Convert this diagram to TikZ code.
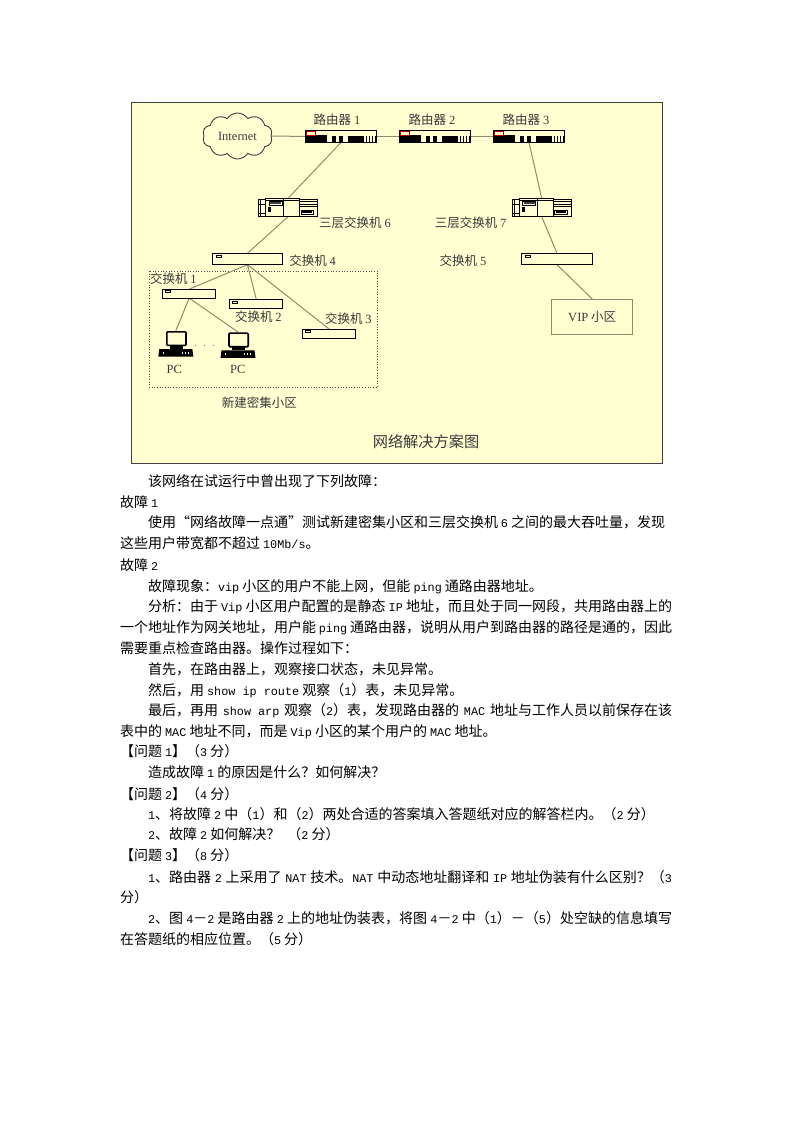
\documentclass[tikz,border=0pt]{standalone}
\usepackage{fontspec}
\setmainfont{Noto Sans CJK SC}
\newfontfamily\latf{Liberation Mono}
\newfontfamily\serf{Liberation Serif}
\newcommand\lat[1]{{\latf\fontsize{11.8}{12}\selectfont #1}}
\newcommand\sr[1]{{\serf #1}}
\newcommand\fullline[2]{\makebox[#1pt][s]{#2}}
\XeTeXlinebreaklocale "zh"
\XeTeXlinebreakskip=0pt plus 1.2pt minus 0.6pt
\usetikzlibrary{shapes.symbols,backgrounds}
\definecolor{bgy}{HTML}{FFFFD2}
\definecolor{linec}{HTML}{8C8C70}
\definecolor{labc}{HTML}{3A3A3A}
\tikzset{
  x=1pt,y=-1pt,
  txt/.style={anchor=base west,inner sep=0pt,outer sep=0pt,font=\fontsize{14}{14}\selectfont,text=black},
  lab/.style={inner sep=0pt,outer sep=0pt,font=\fontsize{12.5}{13}\selectfont,text=labc},
  conn/.style={draw=linec,line width=1pt},
  routerbox/.style={draw=black,line width=0.8pt,fill=bgy,minimum width=71pt,minimum height=11.6pt,inner sep=0pt,outer sep=0pt},
  l3box/.style={minimum width=58.6pt,minimum height=18.4pt,inner sep=0pt,outer sep=0pt},
  swbox/.style={draw=black,line width=1.2pt,fill=bgy,minimum width=70.4pt,minimum height=11.4pt,inner sep=0pt,outer sep=0pt},
  smallsw/.style={draw=black,line width=1pt,fill=bgy,minimum width=53pt,minimum height=9pt,inner sep=0pt,outer sep=0pt},
  pcbox/.style={minimum width=35pt,minimum height=26.5pt,inner sep=0pt,outer sep=0pt},
  pics/routericon/.style={code={
    \fill[black] (-35.5,-1.5) rectangle (-14,5.8);
    \foreach \a/\b in {-9.5/-5,-2.5/2,6.5/22.5,24.5/26,27.5/29,30.5/32,33.5/35}
      \fill[black] (\a,0) rectangle (\b,5.8);
    \draw[red!70!black,line width=0.5pt,fill=bgy] (-34.5,-5) rectangle (-26,-1.5);
  }},
  pics/lthreeicon/.style={code={
    \draw[black,line width=0.8pt] (-29.3,-8) rectangle (29.3,8.6);
    \draw[black,line width=0.8pt,fill=bgy] (-22.6,-9.2) rectangle (11.4,9.2);
    \draw[black,line width=0.8pt] (-4.4,-9.2) -- (-4.4,9.2);
    \draw[black,line width=0.6pt] (-22.6,-7) -- (11.4,-7);
    \fill[black!75] (-18,-6) rectangle (-7,-3.5);
    \draw[black,line width=0.5pt] (-19,-6.5) rectangle (-6,-2.5);
    \fill[black] (-20,0) rectangle (-17,5);
    \draw[black,line width=0.6pt] (-27.5,-8) -- (-27.5,8.6);
    \draw[black,line width=0.6pt] (-29.3,-3) -- (-22.6,-3) (-29.3,6) -- (-22.6,6);
    \draw[black,line width=0.8pt] (11.4,-6) -- (29.3,-6) (11.4,-3) -- (29.3,-3) (11.4,-1.2) -- (29.3,-1.2);
    \fill[black] (14,4) rectangle (24,5.6);
    \draw[black,line width=0.5pt] (13,2.6) rectangle (25.5,7);
  }},
  pics/pcicon/.style={code={
    \draw[black,line width=1.6pt,fill=bgy,rounded corners=1pt] (-9,-12.2) rectangle (10.2,1.4);
    \fill[black] (-6,1.4) rectangle (7,5);
    \fill[black] (-16.5,5) -- (16.5,5) -- (17.5,12.5) -- (-17.5,12.5) -- cycle;
    \foreach \a in {-13,6,9,12}
      \fill[bgy] (\a,7.5) rectangle ++(1.2,2);
  }},
  pics/swmark/.style={code={
    \draw[black,line width=0.7pt,fill=bgy] (0,0) rectangle (5,2.2);
  }},
}
\begin{document}
\begin{tikzpicture}
\useasboundingbox (0,0) rectangle (794,1123);
\begin{scope}[on background layer]
  \fill[white] (0,0) rectangle (794,1123);
  \draw[draw=black!75,line width=1pt,fill=bgy] (131.5,103) rectangle (662.5,463);
  \draw[black!70,line width=0.7pt,dotted] (149,271) rectangle (377.7,387.3);
\end{scope}
% equipment
\node[routerbox] (r1) at (341.2,136.5) {};
\node[routerbox] (r2) at (435.2,136.5) {};
\node[routerbox] (r3) at (529,136.5) {};
\pic at (r1.center) {routericon};
\pic at (r2.center) {routericon};
\pic at (r3.center) {routericon};
\node[cloud,cloud puffs=10,cloud puff arc=115,aspect=1.5,draw=black!75,line width=0.9pt,fill=bgy,minimum width=70pt,minimum height=46pt,inner sep=0pt,outer sep=0pt,font=\fontsize{12.5}{13}\selectfont\serf,text=labc] (cloud) at (237.5,136) {Internet};
\node[l3box] (l6) at (288,207.5) {};
\node[l3box] (l7) at (541.7,207.5) {};
\pic at (l6.center) {lthreeicon};
\pic at (l7.center) {lthreeicon};
\node[swbox] (s4) at (247.5,259) {};
\node[swbox] (s5) at (557,259) {};
\node[smallsw] (s1) at (189.2,293.6) {};
\node[smallsw] (s2) at (256.4,304.2) {};
\node[smallsw] (s3) at (329.2,333.6) {};
\pic at (216,255.5) {swmark};
\pic at (525,255.5) {swmark};
\pic at (165,290.5) {swmark};
\pic at (232.5,301) {swmark};
\pic at (305,330.5) {swmark};
\node[pcbox] (pc1) at (175.8,344) {};
\node[pcbox] (pc2) at (238,345.3) {};
\pic at (pc1.center) {pcicon};
\pic at (pc2.center) {pcicon};
\node[draw=linec,line width=1pt,fill=bgy,minimum width=81pt,minimum height=35pt,inner sep=0pt,outer sep=0pt,font=\fontsize{12.5}{13}\selectfont,text=labc] (vip) at (592.2,316.5) {\sr{VIP} 小区};
% connectors
\begin{scope}[on background layer]
  \draw[conn] (cloud) -- (r1);
  \draw[conn] (r1) -- (r2);
  \draw[conn] (r2) -- (r3);
  \draw[conn] (r1.south) -- (l6.north);
  \draw[conn] (l6.south) -- (s4.north);
  \draw[conn] (r3.south) -- (l7.north);
  \draw[conn] (l7.south) -- (s5.north);
  \draw[conn] (s5.south) -- (vip.north);
  \draw[conn] (s4.south) -- (s1.north);
  \draw[conn] (s4.south) -- (s2.north);
  \draw[conn] (s4.south) -- (s3.north);
  \draw[conn] (s1.south) -- (pc1.north);
  \draw[conn] (s1.south) -- (pc2.north);
\end{scope}
\foreach \a in {195.7,204.5,213.3} \fill[black!55] (\a,345.5) circle (0.6);
% diagram labels
\node[lab] (lr1) at (337,120) {路由器 \sr{1}};
\node[lab] (lr2) at (432,120) {路由器 \sr{2}};
\node[lab] (lr3) at (526,120) {路由器 \sr{3}};
\node[lab] (ll6) at (355,222.7) {三层交换机 \sr{6}};
\node[lab] (ll7) at (470.7,222.7) {三层交换机 \sr{7}};
\node[lab] (ls4) at (312.7,261) {交换机 \sr{4}};
\node[lab] (ls5) at (463,261) {交换机 \sr{5}};
\node[lab] (ls1) at (173.3,278.3) {交换机 \sr{1}};
\node[lab] (ls2) at (258.3,316.7) {交换机 \sr{2}};
\node[lab] (ls3) at (348.3,319) {交换机 \sr{3}};
\node[lab] (lp1) at (174.3,369) {\sr{PC}};
\node[lab] (lp2) at (237.7,369) {\sr{PC}};
\node[lab] (lnew) at (259.3,402.7) {新建密集小区};
\node[lab,font=\fontsize{15.2}{16}\selectfont] (ltitle) at (426,441.5) {网络解决方案图};
% body text
\node[txt] (t1) at (148,486.7) {该网络在试运行中曾出现了下列故障：};
\node[txt] (t2) at (120,507) {故障 \lat{1}};
\node[txt] (t3) at (148,527.7) {\fullline{517}{使用“网络故障一点通”测试新建密集小区和三层交换机 \lat{6} 之间的最大吞吐量，发现}};
\node[txt] (t4) at (120,548.7) {这些用户带宽都不超过 \lat{10Mb/s}。};
\node[txt] (t5) at (120,570) {故障 \lat{2}};
\node[txt] (t6) at (148,591) {故障现象：\lat{vip} 小区的用户不能上网，但能 \lat{ping} 通路由器地址。};
\node[txt] (t7) at (148,611) {\fullline{524}{分析：由于 \lat{Vip} 小区用户配置的是静态 \lat{IP} 地址，而且处于同一网段，共用路由器上的}};
\node[txt] (t8) at (120,632) {\fullline{552}{一个地址作为网关地址，用户能 \lat{ping} 通路由器，说明从用户到路由器的路径是通的，因此}};
\node[txt] (t9) at (120,653) {需要重点检查路由器。操作过程如下：};
\node[txt] (t10) at (148,674) {首先，在路由器上，观察接口状态，未见异常。};
\node[txt] (t11) at (148,695) {然后，用 \lat{show ip route} 观察（\lat{1}）表，未见异常。};
\node[txt] (t12) at (148,715) {\fullline{524}{最后，再用 \lat{show}\hspace{7pt}\lat{arp} 观察（\lat{2}）表，发现路由器的 \lat{MAC} 地址与工作人员以前保存在该}};
\node[txt] (t13) at (120,736) {表中的 \lat{MAC} 地址不同，而是 \lat{Vip} 小区的某个用户的 \lat{MAC} 地址。};
\node[txt] (t14) at (120,756) {【问题 \lat{1}】（\lat{3} 分）};
\node[txt] (t15) at (148,777) {造成故障 \lat{1} 的原因是什么？如何解决？};
\node[txt] (t16) at (120,799) {【问题 \lat{2}】（\lat{4} 分）};
\node[txt] (t17) at (148,819) {\lat{1}、将故障 \lat{2} 中（\lat{1}）和（\lat{2}）两处合适的答案填入答题纸对应的解答栏内。（\lat{2} 分）};
\node[txt] (t18) at (148,839) {\lat{2}、故障 \lat{2} 如何解决？\hspace{7pt}（\lat{2} 分）};
\node[txt] (t19) at (120,860) {【问题 \lat{3}】（\lat{8} 分）};
\node[txt] (t20) at (148,882) {\fullline{524}{\lat{1}、路由器 \lat{2} 上采用了 \lat{NAT} 技术。\lat{NAT} 中动态地址翻译和 \lat{IP} 地址伪装有什么区别？（\lat{3}}};
\node[txt] (t21) at (120,902) {分）};
\node[txt] (t22) at (148,923) {\fullline{524}{\lat{2}、图 \lat{4}－\lat{2} 是路由器 \lat{2} 上的地址伪装表，将图 \lat{4}－\lat{2} 中（\lat{1}）－（\lat{5}）处空缺的信息填写}};
\node[txt] (t23) at (120,944) {在答题纸的相应位置。（\lat{5} 分）};
\end{tikzpicture}
\end{document}
